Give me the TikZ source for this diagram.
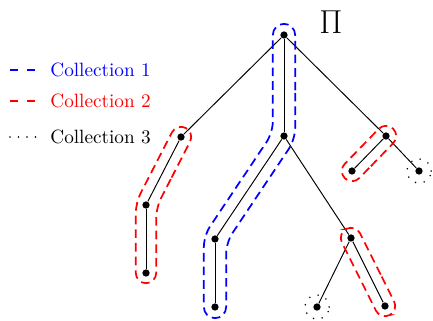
\documentclass[tikz,border=0pt]{standalone}
\usetikzlibrary{calc}
\newcommand\segoff[3]{%
 \coordinate (#1a) at ($(#2.center)!\hr!90:(#3.center)$);
 \coordinate (#1b) at ($(#3.center)!\hr!-90:(#2.center)$);
 \coordinate (#1c) at ($(#2.center)!\hr!-90:(#3.center)$);
 \coordinate (#1d) at ($(#3.center)!\hr!90:(#2.center)$);}
\newcommand\capstart[3]{%
 \coordinate (#1) at ($(#2.center)!-\hr!(#3.center)$);
 \coordinate (#1L) at ($(#1)!\hr!90:(#3.center)$);
 \coordinate (#1R) at ($(#1)!\hr!-90:(#3.center)$);}
\newcommand\capend[3]{%
 \coordinate (#1) at ($(#2.center)!-\hr!(#3.center)$);
 \coordinate (#1L) at ($(#1)!\hr!-90:(#3.center)$);
 \coordinate (#1R) at ($(#1)!\hr!90:(#3.center)$);}
\begin{document}
\begin{tikzpicture}[x=0.52pt,y=-0.52pt,
  dot/.style={circle,fill=black,inner sep=0pt,minimum size=3.8pt},
  edge/.style={line width=0.5pt},
  hullblue/.style={blue,line width=0.9pt,dash pattern=on 4.5pt off 2.6pt,rounded corners=\hr},
  hullred/.style={red,line width=0.9pt,dash pattern=on 4.5pt off 2.6pt,rounded corners=\hr},
  dotring/.style={line width=0.9pt,dash pattern=on 0.01pt off 4.6pt,line cap=round},
  legblue/.style={blue,line width=0.9pt,dash pattern=on 4.2pt off 4.6pt},
  legred/.style={red,line width=0.9pt,dash pattern=on 4.2pt off 4.6pt},
  legdot/.style={line width=0.9pt,dash pattern=on 0.01pt off 4.4pt,line cap=round},
  legtext/.style={anchor=west,inner sep=0pt}]
\useasboundingbox (0,0) rectangle (433,320);

% nodes
\node[dot] (R) at (284,35) {};
\node[dot] (A) at (181,137) {};
\node[dot] (A1) at (146,205) {};
\node[dot] (A2) at (146,273) {};
\node[dot] (B) at (284,136) {};
\node[dot] (B1) at (215,239) {};
\node[dot] (B2) at (215,307) {};
\node[dot] (C) at (351,238) {};
\node[dot] (C1) at (317,307) {};
\node[dot] (C2) at (385,306) {};
\node[dot] (D) at (386,136) {};
\node[dot] (D1) at (352,171) {};
\node[dot] (D2) at (419,171) {};

% edges
\draw[edge] (R) -- (A);
\draw[edge] (A) -- (A1);
\draw[edge] (A1) -- (A2);
\draw[edge] (R) -- (B);
\draw[edge] (B) -- (B1);
\draw[edge] (B1) -- (B2);
\draw[edge] (B) -- (C);
\draw[edge] (C) -- (C1);
\draw[edge] (C) -- (C2);
\draw[edge] (R) -- (D);
\draw[edge] (D) -- (D1);
\draw[edge] (D) -- (D2);

% blue hull R-B-B1-B2
\def\hr{5.8pt}
\segoff{bs1}{R}{B}
\segoff{bs2}{B}{B1}
\segoff{bs3}{B1}{B2}
\capstart{bst}{R}{B}
\capend{ben}{B2}{B1}
\coordinate (bj1L) at (intersection of bs1a--bs1b and bs2a--bs2b);
\coordinate (bj2L) at (intersection of bs2a--bs2b and bs3a--bs3b);
\coordinate (bj1R) at (intersection of bs1c--bs1d and bs2c--bs2d);
\coordinate (bj2R) at (intersection of bs2c--bs2d and bs3c--bs3d);
\coordinate (bm) at ($(bstL)!0.5!(bj1L)$);
\draw[hullblue] (bm) -- (bj1L) -- (bj2L) -- (benL) -- (benR) -- (bj2R) -- (bj1R) -- (bstR) -- (bstL) -- cycle;

% red hull A-A1-A2
\def\hr{5.3pt}
\segoff{as1}{A}{A1}
\segoff{as2}{A1}{A2}
\capstart{ast}{A}{A1}
\capend{aen}{A2}{A1}
\coordinate (ajL) at (intersection of as1a--as1b and as2a--as2b);
\coordinate (ajR) at (intersection of as1c--as1d and as2c--as2d);
\coordinate (am) at ($(astL)!0.5!(ajL)$);
\draw[hullred] (am) -- (ajL) -- (aenL) -- (aenR) -- (ajR) -- (astR) -- (astL) -- cycle;

% red hull D-D1
\capstart{dst}{D}{D1}
\capend{den}{D1}{D}
\coordinate (dm) at ($(dstL)!0.5!(denL)$);
\draw[hullred] (dm) -- (denL) -- (denR) -- (dstR) -- (dstL) -- cycle;

% red hull C-C2
\capstart{cst}{C}{C2}
\capend{cen}{C2}{C}
\coordinate (cm) at ($(cstL)!0.5!(cenL)$);
\draw[hullred] (cm) -- (cenL) -- (cenR) -- (cstR) -- (cstL) -- cycle;

% dotted rings
\draw[dotring] (C1) circle[radius=6.3pt];
\draw[dotring] (D2) circle[radius=6.3pt];

% Pi label
\node (pi) at (331,22) {\LARGE$\Pi$};

% legend
\coordinate (l1a) at (10,70); \coordinate (l1b) at (36,70);
\coordinate (l2a) at (10,101); \coordinate (l2b) at (36,101);
\coordinate (l3a) at (10,137); \coordinate (l3b) at (36,137);
\draw[legblue] (l1a) -- (l1b);
\draw[legred] (l2a) -- (l2b);
\draw[legdot] (l3a) -- (l3b);
\node[legtext,text=blue] (t1) at (50,70) {Collection 1};
\node[legtext,text=red] (t2) at (50,101) {Collection 2};
\node[legtext] (t3) at (50,137) {Collection 3};
\end{tikzpicture}
\end{document}
